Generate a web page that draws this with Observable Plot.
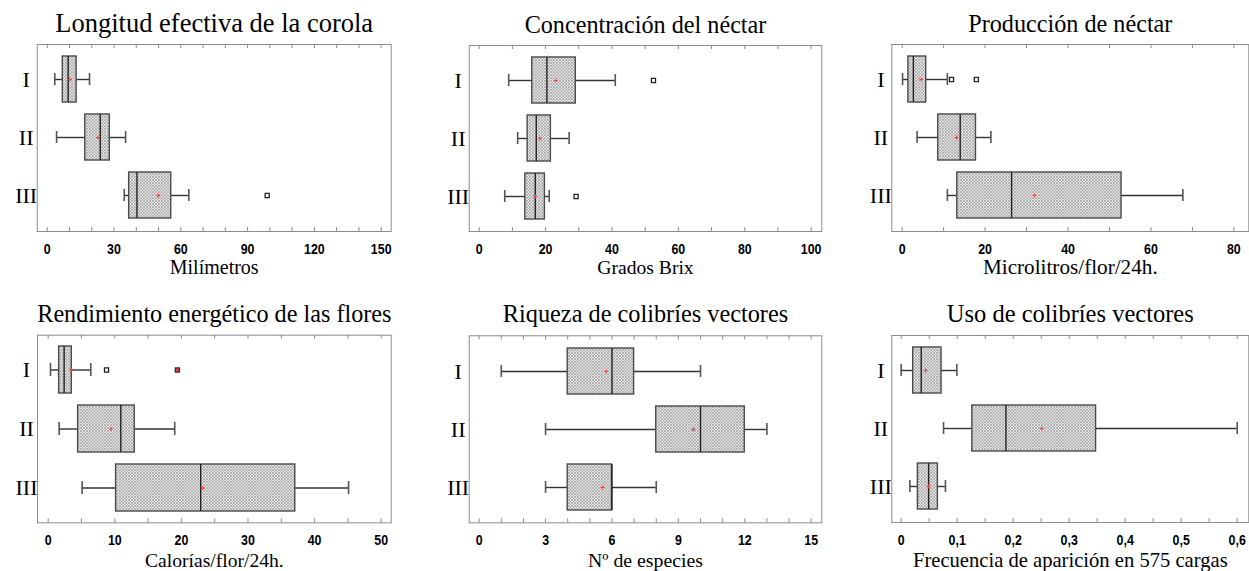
<!DOCTYPE html>
<html>
<head>
<meta charset="utf-8">
<script src="https://cdn.jsdelivr.net/npm/d3@7"></script>
<script src="https://cdn.jsdelivr.net/npm/@observablehq/plot@0.6"></script>
<style>
  html, body { margin: 0; padding: 0; background: #fff; }
  #root { position: relative; width: 1249px; height: 571px; overflow: hidden; background: #fff; }
  .panel { position: absolute; }
</style>
</head>
<body>
<svg width="0" height="0" style="position:absolute">
  <defs>
    <pattern id="hatch" patternUnits="userSpaceOnUse" width="3" height="3">
      <rect width="3" height="3" fill="#e4e4e4"></rect>
      <path d="M0,0L3,3M3,0L0,3" stroke="#959595" stroke-width="0.6"></path>
    </pattern>
  </defs>
</svg>
<div id="root"></div>
<script>
// ---------- data ----------
const groups = ["I", "II", "III"];
const titles = [
  "Longitud efectiva de la corola",
  "Concentración del néctar",
  "Producción de néctar",
  "Rendimiento energético de las flores",
  "Riqueza de colibríes vectores",
  "Uso de colibríes vectores"
];
const axisLabels = [
  "Milímetros",
  "Grados Brix",
  "Microlitros/flor/24h.",
  "Calorías/flor/24h.",
  "Nº de especies",
  "Frecuencia de aparición en 575 cargas"
];
// per panel, values for groups I, II, III
const whiskerLow  = [[3.4, 4.2, 34.6], [8.9, 11.6, 7.7], [0.1, 3.6, 10.9], [0.35, 1.65, 5.1], [1, 3, 3], [0.0, 0.0756, 0.0155]];
const q1          = [[7.0, 17.1, 36.8], [16.0, 14.6, 13.9], [1.5, 8.7, 13.3], [1.65, 4.5, 10.2], [4, 8, 4], [0.0214, 0.127, 0.0298]];
const medians     = [[9.4, 23.8, 40.3], [20.4, 17.2, 16.9], [2.7, 14.0, 26.4], [2.4, 10.9, 22.9], [6, 10, 6], [0.0357, 0.187, 0.049]];
const q3          = [[13.2, 28.1, 55.7], [29.1, 21.6, 19.8], [5.8, 17.8, 52.9], [3.55, 13.0, 37.1], [7, 12, 6], [0.072, 0.348, 0.0655]];
const whiskerHigh = [[19.0, 35.2, 63.6], [41.0, 27.1, 21.1], [10.9, 21.4, 67.7], [6.4, 19.0, 45.1], [10, 13, 8], [0.0994, 0.6, 0.079]];
const means       = [[10.2, 22.8, 49.9], [23.1, 18.3, 16.9], [4.6, 13.1, 31.9], [3.45, 9.46, 23.2], [5.74, 9.68, 5.57], [0.0435, 0.251, 0.049]];
const outliers    = [[["III", 98.8]], [["I", 52.5], ["III", 29.2]], [["I", 11.9], ["I", 17.9]], [["I", 8.76]], [], []];
const farOutliers = [[], [], [], [["I", 19.4]], [], []];
const tickLabels  = [
  [0, 30, 60, 90, 120, 150],
  [0, 20, 40, 60, 80, 100],
  [0, 20, 40, 60, 80],
  [0, 10, 20, 30, 40, 50],
  [0, 3, 6, 9, 12, 15],
  [0, 0.1, 0.2, 0.3, 0.4, 0.5, 0.6]
];
const minorStep = [10, 10, 10, 5, 1, 0.05];

// ---------- layout ----------
const cols = [{x0: 0, w: 416}, {x0: 416, w: 416}, {x0: 832, w: 417}];
const rows = [{y0: 0, h: 284}, {y0: 284, h: 287}];
const frames = [
  {l: 36.7, r: 390.7, t: 44, b: 231, dom: [-4.5, 154.5], titleSize: 26.5, labelSize: 20},
  {l: 468.7, r: 821.3, t: 45, b: 231, dom: [-3.0, 103.2], titleSize: 24.2, labelSize: 19.6},
  {l: 891.3, r: 1248.3, t: 44, b: 231, dom: [-2.5, 83.6], titleSize: 24.2, labelSize: 21.2},
  {l: 37, r: 390.7, t: 334.7, b: 522.3, dom: [-1.6, 51.5], titleSize: 24.2, labelSize: 19.6},
  {l: 468.7, r: 821.3, t: 335.3, b: 522.3, dom: [-0.45, 15.48], titleSize: 24.3, labelSize: 19.8},
  {l: 891.3, r: 1248.3, t: 335, b: 522, dom: [-0.0168, 0.6207], titleSize: 24.5, labelSize: 20.6}
];
const rowText = [
  {titleDy: -12.3, tickPad: 11, labelDy: 42.3},
  {titleDy: -13.7, tickPad: 11.5, labelDy: 44.2}
];

const serif = "'Liberation Serif', 'Times New Roman', serif";
const tickFont = "'Liberation Sans Narrow', 'Arial Narrow', 'Liberation Sans', Arial, sans-serif";

const root = document.getElementById("root");

for (let p = 0; p < 6; p++) {
  const row = Math.floor(p / 3);
  const c = cols[p % 3], r = rows[row], f = frames[p], rt = rowText[row];
  const idx = [0, 1, 2];
  const fh = f.b - f.t;
  const minor = d3.range(0, f.dom[1] + 1e-9, minorStep[p]).map(v => +v.toFixed(4));
  const fmt = p === 5 ? (d => d === 0 ? "0" : String(d).replace(".", ",")) : (d => String(d));

  const chart = Plot.plot({
    width: c.w,
    height: r.h,
    marginLeft: f.l - c.x0,
    marginRight: c.x0 + c.w - f.r,
    marginTop: f.t - r.y0,
    marginBottom: r.y0 + r.h - f.b,
    style: {background: "transparent", overflow: "visible"},
    x: {domain: f.dom, axis: null},
    y: {domain: groups, paddingInner: 0.2, paddingOuter: 0.186, axis: null},
    marks: [
      Plot.frame({stroke: "#8c8c8c", strokeWidth: 1}),
      Plot.tickX(minor, {x: d => d, insetBottom: fh - 4, stroke: "#8c8c8c"}),
      Plot.tickX(minor, {x: d => d, insetTop: fh - 4, stroke: "#8c8c8c"}),
      Plot.axisX({ticks: tickLabels[p], tickSize: 0, tickPadding: rt.tickPad, tickFormat: fmt,
        label: null, fontFamily: tickFont, fontWeight: "bold", fontSize: 15.5, fill: "black"}),
      // whiskers
      Plot.ruleY(idx, {y: i => groups[i], x1: i => whiskerLow[p][i], x2: i => q1[p][i], stroke: "#333", strokeWidth: 1.4}),
      Plot.ruleY(idx, {y: i => groups[i], x1: i => q3[p][i], x2: i => whiskerHigh[p][i], stroke: "#333", strokeWidth: 1.4}),
      Plot.tickX(idx, {y: i => groups[i], x: i => whiskerLow[p][i], insetTop: 17, insetBottom: 17, stroke: "#555", strokeWidth: 1.6}),
      Plot.tickX(idx, {y: i => groups[i], x: i => whiskerHigh[p][i], insetTop: 17, insetBottom: 17, stroke: "#555", strokeWidth: 1.6}),
      // boxes
      Plot.barX(idx, {y: i => groups[i], x1: i => q1[p][i], x2: i => q3[p][i], fill: "url(#hatch)", stroke: "#4a4a4a", strokeWidth: 1.4}),
      Plot.tickX(idx, {y: i => groups[i], x: i => medians[p][i], stroke: "#222", strokeWidth: 1.4}),
      // means
      Plot.dot(idx, {y: i => groups[i], x: i => means[p][i], symbol: "plus", r: 1.4, stroke: "#ff3b3b", strokeWidth: 1}),
      // outliers
      Plot.dot(outliers[p], {y: d => d[0], x: d => d[1], symbol: "square", r: 2.3, stroke: "#222", fill: "white", strokeWidth: 1.3}),
      Plot.dot(farOutliers[p], {y: d => d[0], x: d => d[1], symbol: "square", r: 2.3, stroke: "#333", fill: "#f03c3c", strokeWidth: 1.3}),
      // group labels
      Plot.text(groups, {y: d => d, text: d => d, frameAnchor: "left", dx: -11, textAnchor: "middle",
        fontFamily: serif, fontSize: 22, fill: "black"}),
      // title
      Plot.text([titles[p]], {text: d => d, frameAnchor: "top", lineAnchor: "bottom", dy: rt.titleDy,
        fontFamily: serif, fontSize: f.titleSize, fill: "black"}),
      // axis label
      Plot.text([axisLabels[p]], {text: d => d, frameAnchor: "bottom", lineAnchor: "bottom", dy: rt.labelDy,
        fontFamily: serif, fontSize: f.labelSize, fill: "black"})
    ]
  });
  // narrow the bold tick numerals (condensed look of the reference)
  d3.select(chart).selectAll('g[aria-label="x-axis tick label"] text').each(function() {
    const t = this.getAttribute("transform") || "";
    this.setAttribute("transform", t + " scale(0.8,1)");
  });
  const div = document.createElement("div");
  div.className = "panel";
  div.style.left = c.x0 + "px";
  div.style.top = r.y0 + "px";
  div.style.zIndex = String(2 - row);
  div.appendChild(chart);
  root.appendChild(div);
}
</script>
</body>
</html>
